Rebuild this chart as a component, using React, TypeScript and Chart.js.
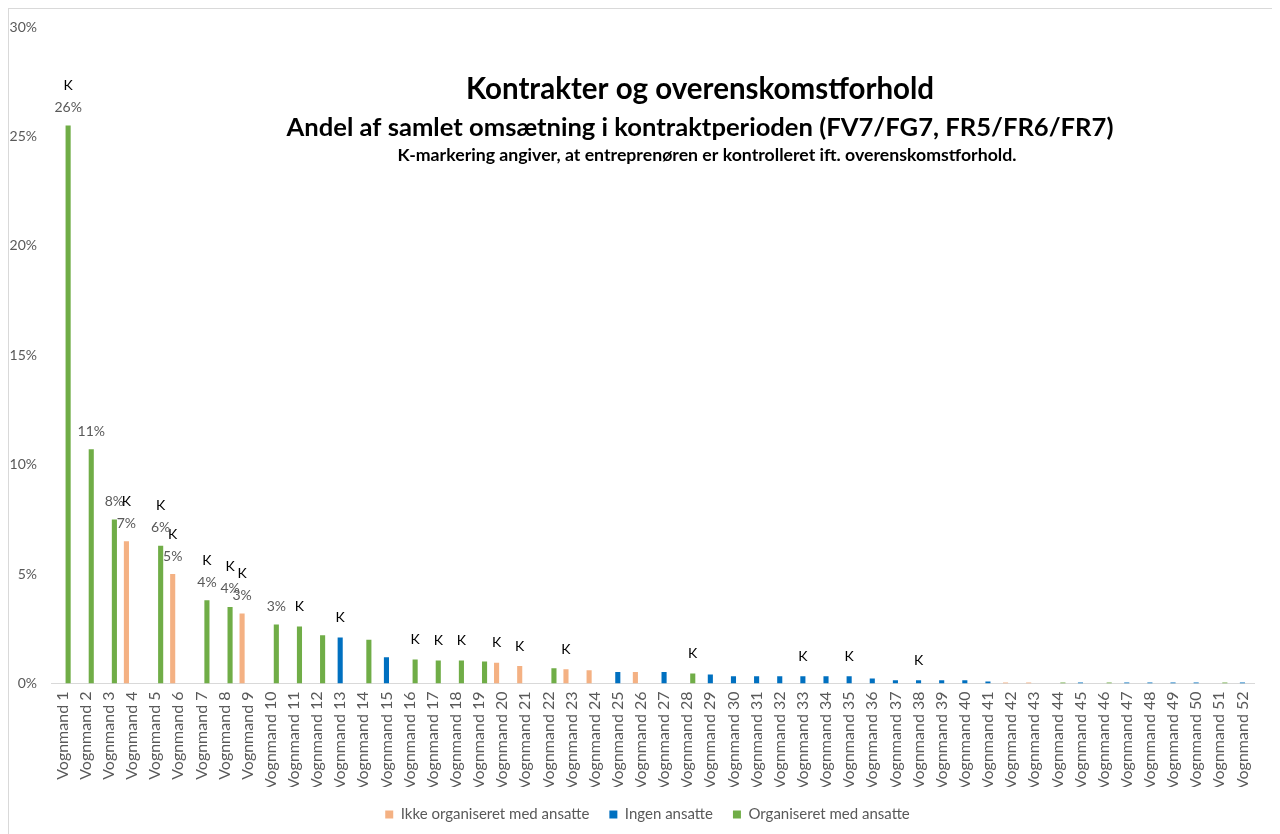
import React, { useEffect, useRef } from 'react';
import { Chart, registerables } from 'chart.js';

Chart.register(...registerables);

const categories = [
  'Vognmand 1', 'Vognmand 2', 'Vognmand 3', 'Vognmand 4', 'Vognmand 5', 'Vognmand 6', 'Vognmand 7',
  'Vognmand 8', 'Vognmand 9', 'Vognmand 10', 'Vognmand 11', 'Vognmand 12', 'Vognmand 13', 'Vognmand 14',
  'Vognmand 15', 'Vognmand 16', 'Vognmand 17', 'Vognmand 18', 'Vognmand 19', 'Vognmand 20', 'Vognmand 21',
  'Vognmand 22', 'Vognmand 23', 'Vognmand 24', 'Vognmand 25', 'Vognmand 26', 'Vognmand 27', 'Vognmand 28',
  'Vognmand 29', 'Vognmand 30', 'Vognmand 31', 'Vognmand 32', 'Vognmand 33', 'Vognmand 34', 'Vognmand 35',
  'Vognmand 36', 'Vognmand 37', 'Vognmand 38', 'Vognmand 39', 'Vognmand 40', 'Vognmand 41', 'Vognmand 42',
  'Vognmand 43', 'Vognmand 44', 'Vognmand 45', 'Vognmand 46', 'Vognmand 47', 'Vognmand 48', 'Vognmand 49',
  'Vognmand 50', 'Vognmand 51', 'Vognmand 52',
];

// share of total turnover, in percent
const shares = [
  25.5, 10.7, 7.5, 6.5, 6.3, 5.0, 3.8, 3.5, 3.2, 2.7,
  2.6, 2.2, 2.1, 2.0, 1.2, 1.1, 1.05, 1.05, 1.0, 0.95,
  0.8, 0.7, 0.65, 0.6, 0.53, 0.53, 0.53, 0.46, 0.41, 0.33,
  0.33, 0.33, 0.33, 0.33, 0.33, 0.23, 0.15, 0.15, 0.15, 0.15,
  0.09, 0.05, 0.05, 0.05, 0.05, 0.05, 0.05, 0.05, 0.05, 0.05,
  0.05, 0.05,
];

// O = Ikke organiseret med ansatte, B = Ingen ansatte, G = Organiseret med ansatte
const groups = [
  'G', 'G', 'G', 'O', 'G', 'O', 'G', 'G', 'O', 'G',
  'G', 'G', 'B', 'G', 'B', 'G', 'G', 'G', 'G', 'O',
  'O', 'G', 'O', 'O', 'B', 'O', 'B', 'G', 'B', 'B',
  'B', 'B', 'B', 'B', 'B', 'B', 'B', 'B', 'B', 'B',
  'B', 'O', 'O', 'G', 'B', 'G', 'B', 'B', 'B', 'B',
  'G', 'B',
];

const valueLabels = [
  '26%', '11%', '8%', '7%', '6%', '5%', '4%', '4%', '3%', '3%',
];

// Vognmænd marked "K" (kontrolleret ift. overenskomstforhold)
const controlled = [1, 4, 5, 6, 7, 8, 9, 11, 13, 16, 17, 18, 20, 21, 23, 28, 33, 35, 38];

const seriesNames = ['Ikke organiseret med ansatte', 'Ingen ansatte', 'Organiseret med ansatte'];
const seriesKeys = ['O', 'B', 'G'];
const seriesColors = ['#F4B183', '#0070C0', '#70AD47'];

const yTicks = [0, 5, 10, 15, 20, 25, 30];

const titleLines = [
  'Kontrakter og overenskomstforhold',
  'Andel af samlet omsætning i kontraktperioden (FV7/FG7, FR5/FR6/FR7)',
  'K-markering angiver, at entreprenøren er kontrolleret ift. overenskomstforhold.',
];

const FONT = "Lato, 'Open Sans', sans-serif";

const labelPlugin = {
  id: 'labelPlugin',
  afterDatasetsDraw(chart: any) {
    const ctx = chart.ctx;
    ctx.save();
    ctx.textAlign = 'center';
    ctx.textBaseline = 'middle';
    chart.data.datasets.forEach((ds: any, di: number) => {
      const meta = chart.getDatasetMeta(di);
      meta.data.forEach((el: any, i: number) => {
        const v = ds.data[i];
        if (v === null || v === undefined) return;
        const lbl = valueLabels[i] || '';
        if (lbl) {
          ctx.fillStyle = '#595959';
          ctx.font = `14px ${FONT}`;
          ctx.fillText(lbl, el.x, el.y - 18);
        }
        if (controlled.includes(i + 1)) {
          ctx.fillStyle = '#000000';
          ctx.font = `14px ${FONT}`;
          ctx.fillText('K', el.x, el.y - (lbl ? 40 : 20));
        }
      });
    });
    ctx.restore();
  },
};

const titlePlugin = {
  id: 'titlePlugin',
  afterDraw(chart: any) {
    const ctx = chart.ctx;
    ctx.save();
    ctx.fillStyle = '#000000';
    ctx.textAlign = 'center';
    ctx.textBaseline = 'middle';
    ctx.font = `bold 29.5px ${FONT}`;
    ctx.fillText(titleLines[0], 691, 80);
    ctx.font = `bold 25.6px ${FONT}`;
    ctx.fillText(titleLines[1], 691, 119);
    ctx.font = `bold 17.7px ${FONT}`;
    ctx.fillText(titleLines[2], 698, 146);
    ctx.restore();
  },
};

const legendShiftPlugin = {
  id: 'legendShift',
  afterLayout(chart: any) {
    if (chart.legend) {
      chart.legend.left += 16;
      chart.legend.right += 16;
    }
  },
};

export default function App() {
  const ref = useRef<HTMLCanvasElement | null>(null);

  useEffect(() => {
    if (!ref.current) return;
    const datasets = seriesKeys.map((key, s) => ({
      label: seriesNames[s],
      data: shares.map((v, i) => (groups[i] === key ? v : null)),
      backgroundColor: seriesColors[s],
      borderWidth: 0,
      categoryPercentage: 0.72,
      barPercentage: 0.92,
    }));
    const chart = new Chart(ref.current, {
      type: 'bar',
      data: { labels: categories, datasets },
      options: {
        animation: false,
        responsive: false,
        maintainAspectRatio: false,
        layout: { padding: { top: 18, right: 26, bottom: 2, left: 0 } },
        plugins: {
          title: { display: false },
          tooltip: { enabled: false },
          legend: {
            position: 'bottom',
            labels: {
              boxWidth: 8,
              boxHeight: 8,
              padding: 20,
              color: '#595959',
              font: { family: FONT, size: 15 },
            },
          },
        },
        scales: {
          x: {
            grid: { display: false, drawTicks: false },
            border: { display: true, color: '#d9d9d9', width: 1 },
            ticks: {
              autoSkip: false,
              maxRotation: 90,
              minRotation: 90,
              padding: 8,
              color: '#595959',
              font: { family: FONT, size: 16 },
            },
            afterFit: (scale: any) => {
              scale.height = 103.5;
            },
          },
          y: {
            min: 0,
            max: 30,
            grid: { display: false, drawTicks: false },
            border: { display: false },
            afterBuildTicks: (scale: any) => {
              scale.ticks = yTicks.map((v) => ({ value: v }));
            },
            ticks: {
              padding: 14,
              color: '#595959',
              font: { family: FONT, size: 14 },
              callback: (v: any) => `${v}%`,
            },
            afterFit: (scale: any) => {
              scale.width = 42;
              scale.paddingTop = 0;
              scale.paddingBottom = 0;
            },
          },
        },
      },
      plugins: [labelPlugin, titlePlugin, legendShiftPlugin],
    });
    return () => chart.destroy();
  }, []);

  return (
    <div
      style={{
        width: 1271,
        height: 825,
        borderTop: '1px solid #d9d9d9',
        borderLeft: '1px solid #d9d9d9',
        background: '#ffffff',
      }}
    >
      <canvas ref={ref} width={1271} height={825} style={{ display: 'block' }} />
    </div>
  );
}
